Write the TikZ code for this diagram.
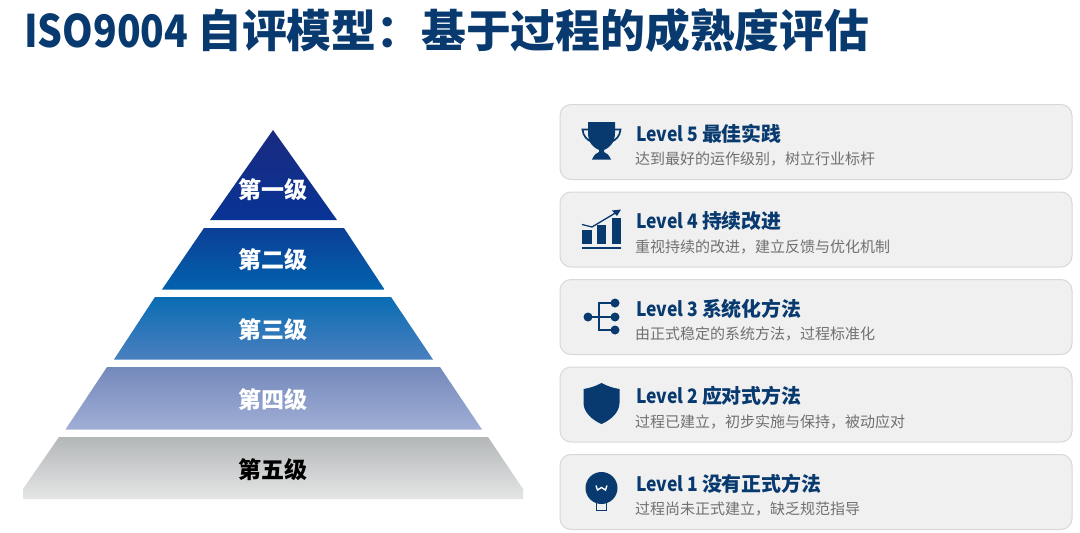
\documentclass[tikz,border=0pt]{standalone}
\usepackage{fontspec}
\setmainfont{Noto Sans CJK SC}
\newcommand{\narrowlatin}[2]{{\addfontfeatures{FakeStretch=#1}#2}}
\definecolor{navy}{HTML}{083A6F}
\definecolor{subgray}{HTML}{707070}
\definecolor{cardfill}{HTML}{F0F0F1}
\definecolor{cardline}{HTML}{D9D8D9}
\tikzset{
  x=1pt,y=-1pt,
  headline/.style={anchor=base west,inner sep=0pt,text=navy,font=\fontsize{44.8}{50}\selectfont\bfseries},
  tierlabel/.style={inner sep=0pt,text=white,font=\fontsize{23}{26}\selectfont\bfseries},
  card/.style={draw=cardline,fill=cardfill,line width=1pt,rounded corners=11pt},
  cardtitle/.style={anchor=west,inner sep=0pt,text=navy,font=\fontsize{19.9}{22}\selectfont\bfseries},
  cardsub/.style={anchor=west,inner sep=0pt,text=subgray,font=\fontsize{15}{17}\selectfont},
  iconfill/.style={fill=navy,draw=none},
  iconline/.style={draw=navy,line width=1.7pt}
}
\begin{document}
\begin{tikzpicture}
\useasboundingbox (0,0) rectangle (1080,533);
\fill[white] (0,0) rectangle (1080,533);
\node[headline] (head) at (24,47) {\narrowlatin{0.87}{ISO9004 }自评模型：基于过程的成熟度评估};
% pyramid
\shade[top color={rgb,255:red,26;green,42;blue,128},bottom color={rgb,255:red,8;green,52;blue,150}] (273,130) -- (337,220) -- (210,220) -- cycle;
\shade[top color={rgb,255:red,11;green,63;blue,150},bottom color={rgb,255:red,2;green,98;blue,174}] (204,228) -- (344,228) -- (384.5,289.5) -- (162,289.5) -- cycle;
\shade[top color={rgb,255:red,10;green,108;blue,179},bottom color={rgb,255:red,74;green,128;blue,191}] (155,297) -- (391,297) -- (433,359.5) -- (114,359.5) -- cycle;
\shade[top color={rgb,255:red,116;green,137;blue,187},bottom color={rgb,255:red,160;green,174;blue,213}] (107,367) -- (440,367) -- (482,429.5) -- (65.5,429.5) -- cycle;
\shade[top color={rgb,255:red,180;green,183;blue,184},bottom color={rgb,255:red,228;green,230;blue,230}] (59,437) -- (488,437) -- (523,489) -- (523,499) -- (23,499) -- (23,489) -- cycle;
\node[tierlabel] (t1) at (273,189.5) {第一级};
\node[tierlabel] (t2) at (273,259.5) {第二级};
\node[tierlabel] (t3) at (273,329.5) {第三级};
\node[tierlabel] (t4) at (273,399.5) {第四级};
\node[tierlabel,text=black] (t5) at (273,469.5) {第五级};
% cards
\draw[card] (560,104.5) rectangle (1072,179.5);
\draw[card] (560,192) rectangle (1072,267);
\draw[card] (560,279.5) rectangle (1072,354.5);
\draw[card] (560,367) rectangle (1072,442);
\draw[card] (560,454.5) rectangle (1072,529.5);
\node[cardtitle] (c5) at (636,134) {\narrowlatin{0.88}{Level 5 }最佳实践};
\node[cardsub] (s5) at (635,159) {达到最好的运作级别，树立行业标杆};
\node[cardtitle] (c4) at (636,221) {\narrowlatin{0.88}{Level 4 }持续改进};
\node[cardsub] (s4) at (635,246.5) {重视持续的改进，建立反馈与优化机制};
\node[cardtitle] (c3) at (636,309) {\narrowlatin{0.88}{Level 3 }系统化方法};
\node[cardsub] (s3) at (635,334) {由正式稳定的系统方法，过程标准化};
\node[cardtitle] (c2) at (636,396) {\narrowlatin{0.88}{Level 2 }应对式方法};
\node[cardsub] (s2) at (635,421.5) {过程已建立，初步实施与保持，被动应对};
\node[cardtitle] (c1) at (636,483.5) {\narrowlatin{0.88}{Level 1 }没有正式方法};
\node[cardsub] (s1) at (635,509) {过程尚未正式建立，缺乏规范指导};
% trophy
\fill[iconfill] (588,122) -- (615,122) -- (615,133) .. controls (615,143) and (609,148) .. (604,150) -- (604,152) .. controls (607,153) and (609,155) .. (611,159.5) -- (592,159.5) .. controls (594,155) and (596,153) .. (599,152) -- (599,150) .. controls (594,148) and (588,143) .. (588,133) -- cycle;
\draw[iconline,fill=none] (588,129.5) -- (582.5,129.5) .. controls (583,136) and (587,140) .. (592,142);
\draw[iconline,fill=none] (615,129.5) -- (620.5,129.5) .. controls (620,136) and (616,140) .. (611,142);
% chart
\fill[iconfill] (582,230) rectangle (591.5,243.5);
\fill[iconfill] (597,225) rectangle (606,243.5);
\fill[iconfill] (612,218) rectangle (621,243.5);
\fill[iconfill] (582,247) rectangle (621,248.5);
\draw[iconline,line width=1.3pt] (582,224.5) -- (592,227) -- (617,212);
\fill[iconfill] (621,209.5) -- (612,210.5) -- (617,216) -- cycle;
% network
\draw[iconline,line width=1.5pt] (588,317) -- (615,317) (615,303) -- (599,303) -- (599,330) -- (615,330);
\fill[iconfill] (588,317) circle (4.5);
\fill[iconfill] (615,303) circle (4.5);
\fill[iconfill] (615,317) circle (4.5);
\fill[iconfill] (615,330) circle (4.5);
% shield
\fill[iconfill] (601.5,383) .. controls (596,386) and (590,388) .. (583.5,389) -- (583.5,403) .. controls (583.5,412) and (592,420) .. (601.5,424) .. controls (611,420) and (619.5,412) .. (619.5,403) -- (619.5,389) .. controls (613,388) and (607,386) .. (601.5,383) -- cycle;
% bulb
\fill[iconfill] (601.5,488) circle (16);
\draw[iconline,line width=1.3pt,fill=none] (596.5,502) -- (596.5,510.5) -- (606.5,510.5) -- (606.5,502);
\draw[white,line width=1.4pt] (596,485.5) -- (597.5,490) -- (601.5,487.5) -- (605.5,490) -- (607,485.5);
\end{tikzpicture}
\end{document}
